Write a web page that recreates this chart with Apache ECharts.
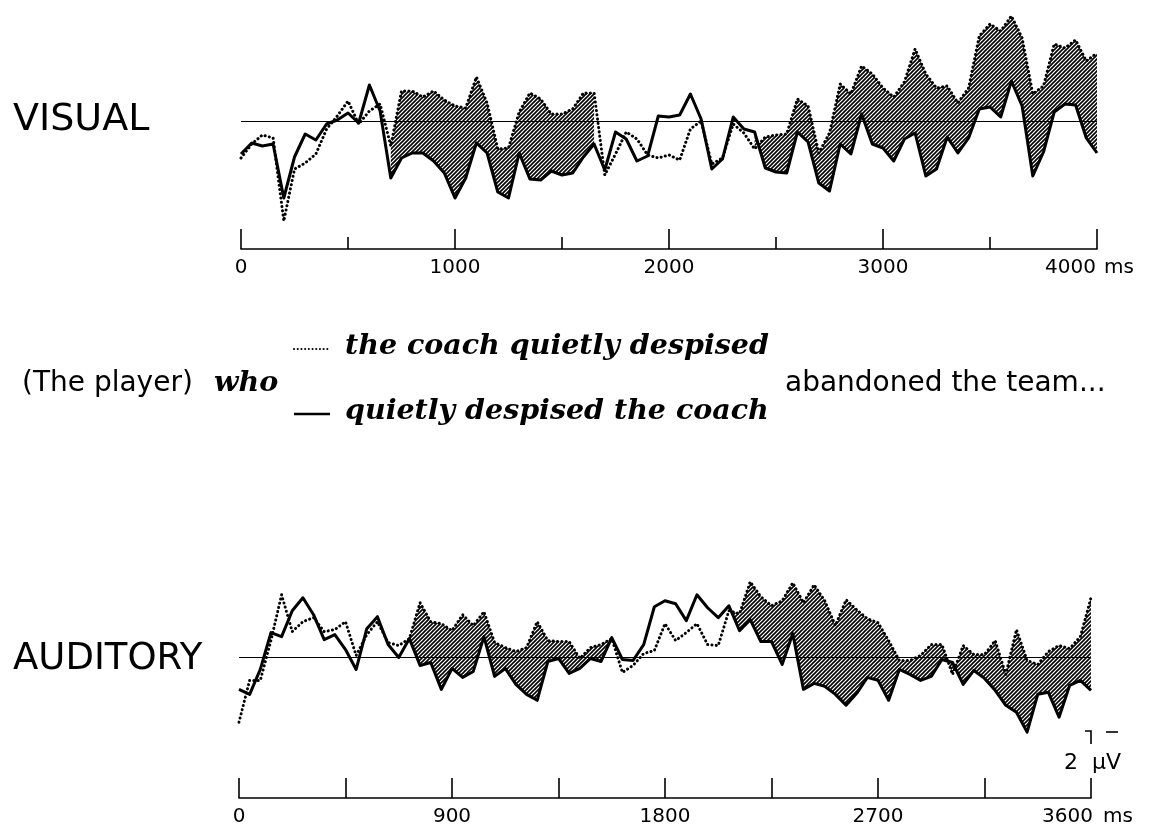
<!DOCTYPE html>
<html>
<head>
<meta charset="utf-8">
<script src="https://cdn.jsdelivr.net/npm/echarts@6/dist/echarts.min.js"></script>
<style>html,body{margin:0;background:#fff}#main{width:1151px;height:827px}</style>
</head>
<body>
<div id="main"></div>
<script>
// amplitude in screen units (about 13 units = 2 uV), up = positive
var visTimes = [0,50,100,150,200,250,300,350,400,450,500,550,600,650,700,750,800,850,900,950,1000,1050,1100,1150,1200,1250,1300,1350,1400,1450,1500,1550,1600,1650,1700,1750,1800,1850,1900,1950,2000,2050,2100,2150,2200,2250,2300,2350,2400,2450,2500,2550,2600,2650,2700,2750,2800,2850,2900,2950,3000,3050,3100,3150,3200,3250,3300,3350,3400,3450,3500,3550,3600,3650,3700,3750,3800,3850,3900,3950,4000];
var visSolid = [-33,-22,-25,-23,-77,-36,-13,-19,-3,1,8,-2,36,10,-57,-37,-32,-32,-40,-52,-77,-57,-22,-32,-71,-77,-32,-58,-59,-50,-54,-52,-36,-23,-49,-11,-18,-40,-35,5,4,6,27,2,-48,-38,4,-8,-11,-47,-51,-52,-11,-21,-62,-70,-23,-33,7,-23,-27,-40,-18,-12,-55,-48,-16,-32,-17,12,14,4,40,15,-55,-31,9,17,16,-17,-32];
var visDotted = [-37,-23,-14,-17,-100,-48,-42,-33,-8,5,20,-3,10,17,-25,30,30,24,30,21,15,13,44,18,-28,-27,9,28,22,7,7,12,28,28,-54,-33,-11,-18,-34,-37,-34,-39,-8,0,-43,-37,-3,-12,-28,-16,-14,-13,22,15,-32,-12,37,27,55,47,33,24,39,72,47,33,35,18,33,85,97,90,105,83,27,35,77,73,81,60,68];
var visShade = [[700, 1650], [2400, 4000]];

var audTimes = [0,45,90,135,180,225,270,315,360,405,450,495,540,585,630,675,720,765,810,855,900,945,990,1035,1080,1125,1170,1215,1260,1305,1350,1395,1440,1485,1530,1575,1620,1665,1710,1755,1800,1845,1890,1935,1980,2025,2070,2115,2160,2205,2250,2295,2340,2385,2430,2475,2520,2565,2610,2655,2700,2745,2790,2835,2880,2925,2970,3015,3060,3105,3150,3195,3240,3285,3330,3375,3420,3465,3510,3555,3600];
var audSolid = [-32,-37,-12,25,21,47,60,43,18,23,8,-12,29,41,13,0,19,-8,-5,-32,-11,-20,-14,21,-19,-11,-27,-37,-43,-4,-1,-16,-11,-1,-4,20,-2,-3,13,51,57,54,37,63,50,40,52,27,38,16,16,-7,24,-32,-26,-29,-37,-48,-36,-20,-23,-43,-12,-17,-23,-19,-2,-5,-27,-13,-21,-33,-48,-55,-75,-37,-35,-60,-28,-23,-33];
var audDotted = [-65,-23,-23,17,63,26,36,40,26,28,36,2,23,36,15,12,19,55,36,34,27,43,32,46,15,10,6,10,36,17,16,16,-1,10,13,19,-15,-8,4,7,34,17,25,34,13,12,47,44,76,61,52,57,75,55,73,57,32,58,48,39,35,17,-3,-3,2,13,13,-17,12,3,3,17,-17,28,-3,-7,6,12,9,21,60];
var audShade = [[720, 1575], [2070, 3600]];

var visTicks = { max: 4000, step: 1000 };
var audTicks = { max: 3600, step: 900 };

var hatch = document.createElement('canvas');
hatch.width = 4;
hatch.height = 4;
var hc = hatch.getContext('2d');
hc.strokeStyle = '#000';
hc.lineWidth = 1.6;
hc.beginPath();
hc.moveTo(-1, 5); hc.lineTo(5, -1);
hc.moveTo(-1, 1); hc.lineTo(1, -1);
hc.moveTo(3, 5); hc.lineTo(5, 3);
hc.stroke();

function pairs(times, vals) {
  return times.map(function (t, i) { return [t, vals[i]]; });
}

function band(times, upper, lower) {
  return function (params, api) {
    var t0 = api.value(0), t1 = api.value(1);
    var top = [], bottom = [];
    for (var i = 0; i < times.length; i++) {
      if (times[i] < t0 || times[i] > t1) continue;
      top.push(api.coord([times[i], upper[i]]));
      bottom.unshift(api.coord([times[i], lower[i]]));
    }
    return {
      type: 'polygon',
      shape: { points: top.concat(bottom) },
      style: { fill: { image: hatch, repeat: 'repeat' }, stroke: null }
    };
  };
}

function trace(data, idx, dotted, baseline) {
  var s = {
    type: 'line', xAxisIndex: idx, yAxisIndex: idx, data: data,
    symbol: 'none', showSymbol: false, z: 3, silent: true,
    emphasis: { disabled: true },
    lineStyle: dotted
      ? { color: '#000', width: 3, type: [0.1, 4.2], cap: 'round' }
      : { color: '#000', width: 3, join: 'round' }
  };
  if (baseline) {
    s.markLine = {
      silent: true, symbol: ['none', 'none'], label: { show: false },
      lineStyle: { color: '#000', width: 1, type: 'solid' },
      data: [{ yAxis: 0 }]
    };
  }
  return s;
}

function timeAxis(idx, ticks, offset, minorLen, padL, padR) {
  var lbl = { fontFamily: 'DejaVu Sans', fontSize: 20, color: '#000' };
  return {
    type: 'value', gridIndex: idx, min: 0, max: ticks.max, interval: ticks.step,
    position: 'bottom', offset: offset,
    axisLine: { show: true, onZero: false, lineStyle: { color: '#000', width: 1.6 } },
    axisTick: { show: true, inside: true, length: 20, lineStyle: { color: '#000', width: 1.6 } },
    minorTick: { show: true, splitNumber: 2, length: minorLen, lineStyle: { color: '#000', width: 1.6 } },
    splitLine: { show: false }, minorSplitLine: { show: false },
    axisLabel: {
      color: '#000', fontFamily: 'DejaVu Sans', fontSize: 20, margin: 9,
      formatter: function (v) { return v === ticks.max ? '{v|' + v + '}{u|ms}' : String(v); },
      rich: {
        v: lbl,
        u: { fontFamily: 'DejaVu Sans', fontSize: 20, color: '#000', padding: [0, padR, 0, padL] }
      }
    }
  };
}

function txt(s, x, y, font) {
  return { type: 'text', x: x, y: y, silent: true,
    style: { text: s, font: font, fill: '#000', verticalAlign: 'middle' } };
}

var sans = '"DejaVu Sans"';
var serifBI = 'italic bold 28.5px "DejaVu Serif"';

var myChart = echarts.init(document.getElementById('main'));

var option = {
  animation: false,
  backgroundColor: '#fff',
  grid: [
    { left: 241, right: 54, top: 11, height: 220 },
    { left: 239, right: 60, top: 548, height: 220 }
  ],
  xAxis: [
    timeAxis(0, visTicks, 18, 12, 8, 15),
    timeAxis(1, audTicks, 31, 20, 10, 7)
  ],
  yAxis: [
    { gridIndex: 0, type: 'value', min: -110, max: 110, show: false },
    { gridIndex: 1, type: 'value', min: -110, max: 110, show: false }
  ],
  series: [
    { type: 'custom', xAxisIndex: 0, yAxisIndex: 0, z: 1, silent: true, clip: false,
      renderItem: band(visTimes, visDotted, visSolid), data: visShade },
    trace(pairs(visTimes, visSolid), 0, false, true),
    trace(pairs(visTimes, visDotted), 0, true, false),
    { type: 'custom', xAxisIndex: 1, yAxisIndex: 1, z: 1, silent: true, clip: false,
      renderItem: band(audTimes, audDotted, audSolid), data: audShade },
    trace(pairs(audTimes, audSolid), 1, false, true),
    trace(pairs(audTimes, audDotted), 1, true, false)
  ],
  graphic: [
    txt('VISUAL', 13, 120, '38px ' + sans),
    txt('AUDITORY', 13, 659, '37px ' + sans),
    txt('(The player)', 22, 384, '28px ' + sans),
    txt('who', 214, 384, serifBI),
    txt('the coach quietly despised', 345, 347, serifBI),
    txt('quietly despised the coach', 345, 412, serifBI),
    txt('abandoned the team...', 785, 384, '28px ' + sans),
    { type: 'line', silent: true, shape: { x1: 294, y1: 349, x2: 330, y2: 349 },
      style: { stroke: '#000', lineWidth: 2, lineDash: [0.1, 3.6], lineCap: 'round' } },
    { type: 'line', silent: true, shape: { x1: 294, y1: 414, x2: 330, y2: 414 },
      style: { stroke: '#000', lineWidth: 2.4 } },
    { type: 'polyline', silent: true, shape: { points: [[1085, 731], [1091, 731], [1091, 744]] },
      style: { stroke: '#000', lineWidth: 1.6, fill: null } },
    { type: 'line', silent: true, shape: { x1: 1106, y1: 732, x2: 1118, y2: 732 },
      style: { stroke: '#000', lineWidth: 1.6 } },
    txt('2  \u00b5V', 1064, 763, '22px ' + sans)
  ]
};

myChart.setOption(option);
</script>
</body>
</html>
